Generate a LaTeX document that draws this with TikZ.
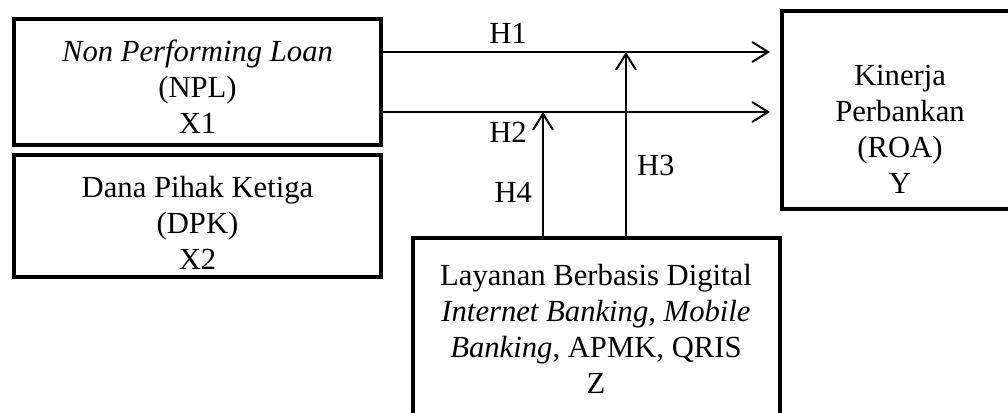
\documentclass[tikz,border=0pt]{standalone}
\usepackage{fontspec}
\setmainfont{Liberation Serif}
\usetikzlibrary{positioning,arrows.meta}

\tikzset{
  basic/.style = {draw, rectangle, line width=3pt, align=center, inner sep=0pt},
  var/.style   = {basic, minimum width=275.25pt},
  dep/.style   = {basic, minimum width=177pt, minimum height=148.5pt},
  lbl/.style   = {inner sep=0pt},
  arr/.style   = {-{Straight Barb[length=12pt,width=15pt]}, line width=1.5pt}
}

\begin{document}
\begin{tikzpicture}[x=0.75pt, y=-0.75pt,
  every node/.style={font=\fontsize{23}{27}\selectfont}]

\useasboundingbox (0,0) rectangle (1008,412);
\clip (0,0) rectangle (1008,412);

% independent variables
\node[var, minimum height=94.5pt] (npl) at (197.5,82) {\rule{0pt}{22.5pt}\textit{Non Performing Loan}\\(NPL)\\X1};
\node[var, minimum height=91.5pt, below=4.5pt of npl] (dpk) {\rule{0pt}{25.5pt}Dana Pihak Ketiga\\(DPK)\\X2};

% dependent variable
\node[dep] (roa) at (900,110) {\rule{0pt}{44pt}Kinerja\\Perbankan\\(ROA)\\Y};

% moderating variable, runs off the bottom edge
\node[var, minimum height=136pt] (dig) at (596,328.5) {Layanan Berbasis Digital\\\textit{Internet Banking, Mobile}\\\textit{Banking}, APMK, QRIS\\Z};

\coordinate (r1) at (0,52);
\coordinate (r2) at (0,112);
\coordinate (c3) at (626,52);
\coordinate (c4) at (543,112);

\draw[arr, shorten >=7.5pt] (npl.east |- r1) -- (roa.west |- r1) node[lbl, pos=0.315, above=6pt] {H1};
\draw[arr, shorten >=7.5pt] (npl.east |- r2) -- (roa.west |- r2) node[lbl, pos=0.315, below=6.6pt] {H2};
\draw[arr] (dig.north -| c3) -- (c3) node[lbl, pos=0.38, right=7.5pt] {H3};
\draw[arr] (dig.north -| c4) -- (c4) node[lbl, pos=0.347, left=7.5pt] {H4};

\end{tikzpicture}
\end{document}
